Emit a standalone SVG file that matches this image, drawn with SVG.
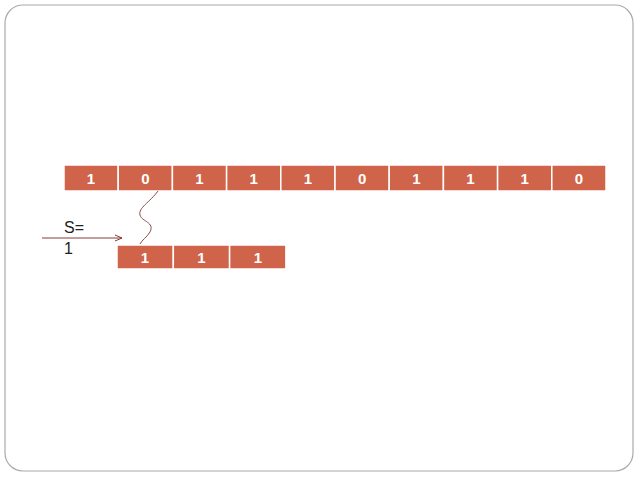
<svg xmlns="http://www.w3.org/2000/svg" width="638" height="478" viewBox="0 0 638 478">
<defs>
<style>
.c{fill:#d0644a;stroke:#fff;stroke-width:1.5}
.t{font-family:"Liberation Sans",Arial,sans-serif;font-size:15px;font-weight:bold;fill:#fff;text-anchor:middle}
.l{font-family:"Liberation Sans",Arial,sans-serif;font-size:16px;fill:#222}
</style>
<marker id="a" markerWidth="8" markerHeight="8" refX="7" refY="4" orient="auto"><path d="M0,1 L7,4 L0,7" fill="none" stroke="#8b3a3a" stroke-width="1"/></marker>
</defs>
<rect x="5" y="5" width="628" height="466" rx="18" fill="#fff" stroke="#aaa" stroke-width="1.2"/>
<g id="top">
<rect class="c" x="64" y="165" width="54.2" height="26"/><text class="t" x="91" y="184">1</text>
<rect class="c" x="118.2" y="165" width="54.2" height="26"/><text class="t" x="145.3" y="184">0</text>
<rect class="c" x="172.4" y="165" width="54.2" height="26"/><text class="t" x="199.5" y="184">1</text>
<rect class="c" x="226.6" y="165" width="54.2" height="26"/><text class="t" x="253.7" y="184">1</text>
<rect class="c" x="280.8" y="165" width="54.2" height="26"/><text class="t" x="307.9" y="184">1</text>
<rect class="c" x="335" y="165" width="54.2" height="26"/><text class="t" x="362.1" y="184">0</text>
<rect class="c" x="389.2" y="165" width="54.2" height="26"/><text class="t" x="416.3" y="184">1</text>
<rect class="c" x="443.4" y="165" width="54.2" height="26"/><text class="t" x="470.5" y="184">1</text>
<rect class="c" x="497.6" y="165" width="54.2" height="26"/><text class="t" x="524.7" y="184">1</text>
<rect class="c" x="551.8" y="165" width="54.2" height="26"/><text class="t" x="578.9" y="184">0</text>
</g>
<g id="bottom">
<rect class="c" x="117" y="245" width="56.3" height="24"/><text class="t" x="145" y="263">1</text>
<rect class="c" x="173.3" y="245" width="56.3" height="24"/><text class="t" x="201.5" y="263">1</text>
<rect class="c" x="229.6" y="245" width="56.3" height="24"/><text class="t" x="257.8" y="263">1</text>
</g>
<g id="connectors">
<path d="M158,191 C150,202 138,208 140,215 C142,222 155,222 150,232 C147,237 142,240 140,244" fill="none" stroke="#8b4a4a" stroke-width="1"/>
<line x1="42" y1="238" x2="122" y2="238" stroke="#8b3a3a" stroke-width="1" marker-end="url(#a)"/>
</g>
<g id="label"><text class="l" x="64" y="233">S=</text><text class="l" x="64" y="254">1</text></g>
</svg>
